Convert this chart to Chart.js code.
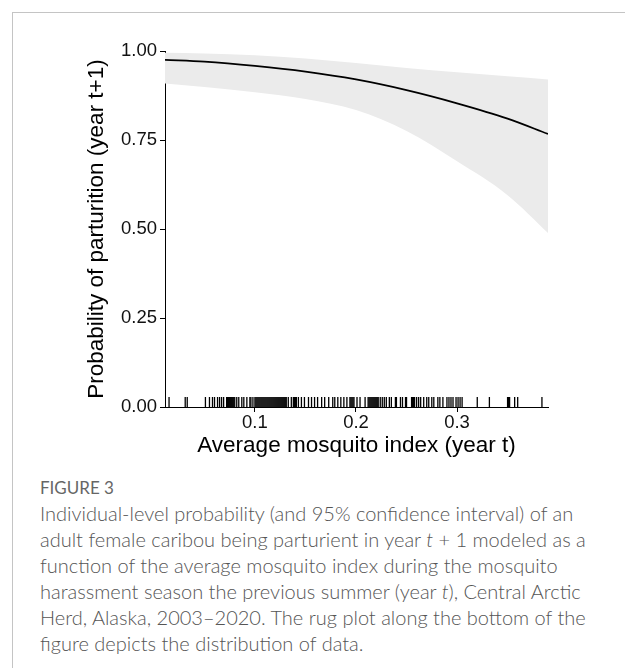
<!DOCTYPE html>
<html>
<head>
<meta charset="utf-8">
<script src="https://cdn.jsdelivr.net/npm/chart.js@4/dist/chart.umd.min.js"></script>
<style>
  html, body { margin: 0; padding: 0; background: #fff; }
  body { width: 625px; height: 668px; position: relative; overflow: hidden; }
  #frame {
    position: absolute; left: 12px; top: 12px; width: 640px; height: 700px;
    border-top: 1px solid #c4c4c4; border-left: 1px solid #c4c4c4;
  }
  #chart { position: absolute; left: 0; top: 0; }
  #figLabel {
    position: absolute; left: 40px; top: 477px;
    font-family: Lato, "Open Sans", sans-serif; font-size: 17px; color: #666;
  }
  #caption {
    position: absolute; left: 40px; top: 500px;
    font-family: Lato, "Open Sans", sans-serif; font-size: 20px; line-height: 26px;
    font-weight: 300; color: #555; white-space: nowrap;
  }
</style>
</head>
<body>
<div id="frame"></div>
<canvas id="chart" width="625" height="470"></canvas>
<div id="figLabel">FIGURE 3</div>
<div id="caption">
Individual-level probability (and 95% confidence interval) of an<br>
adult female caribou being parturient in year <i>t</i> + 1 modeled as a<br>
function of the average mosquito index during the mosquito<br>
harassment season the previous summer (year <i>t</i>), Central Arctic<br>
Herd, Alaska, 2003&#8211;2020. The rug plot along the bottom of the<br>
figure depicts the distribution of data.
</div>
<script>
// fitted curve and 95% CI
const xGrid    = [0.011, 0.05,  0.1,   0.15,  0.2,   0.25,  0.3,   0.35,  0.39];
const fitProb  = [0.975, 0.970, 0.958, 0.942, 0.920, 0.890, 0.853, 0.810, 0.767];
const upperCI  = [0.995, 0.993, 0.988, 0.979, 0.966, 0.952, 0.940, 0.929, 0.920];
const lowerCI  = [0.909, 0.899, 0.884, 0.865, 0.834, 0.775, 0.690, 0.595, 0.489];

// rug (observed mosquito index values)
const rugX = [
  0.015, 0.031, 0.033, 0.051, 0.055, 0.058, 0.060, 0.063, 0.065, 0.067, 0.069,
  0.072, 0.073, 0.074, 0.075, 0.076, 0.077, 0.078, 0.079, 0.080,
  0.082, 0.084, 0.087, 0.089, 0.092, 0.095, 0.096, 0.098,
  0.100, 0.101, 0.102, 0.103, 0.104, 0.105, 0.106, 0.107, 0.108, 0.109,
  0.110, 0.111, 0.112, 0.113, 0.114, 0.115, 0.116, 0.117, 0.118, 0.119,
  0.120, 0.121, 0.122, 0.123, 0.124, 0.125, 0.126, 0.127, 0.128, 0.129,
  0.130, 0.131, 0.133, 0.136, 0.138, 0.139, 0.140, 0.141, 0.143, 0.146, 0.149,
  0.153, 0.156, 0.159, 0.162, 0.166, 0.169, 0.173, 0.177, 0.179, 0.182,
  0.185, 0.188, 0.191, 0.194, 0.195, 0.196, 0.197, 0.198, 0.201, 0.204, 0.209,
  0.212, 0.213, 0.214, 0.215, 0.216, 0.217, 0.218, 0.219, 0.220, 0.221, 0.222,
  0.224, 0.226, 0.228, 0.230, 0.233, 0.235, 0.239, 0.240, 0.244, 0.246, 0.249,
  0.250, 0.255, 0.256, 0.257, 0.258, 0.260, 0.262, 0.264, 0.267, 0.270, 0.272,
  0.275, 0.277, 0.281, 0.283, 0.286, 0.290, 0.292, 0.294, 0.296, 0.299, 0.301,
  0.303, 0.305, 0.320, 0.332, 0.350, 0.351, 0.352, 0.357, 0.360, 0.384
];
const rugY = 0.014;

const xTickVals = [0.1, 0.2, 0.3];
const yTickVals = [0, 0.25, 0.5, 0.75, 1];
const xMin = 0.011, xMax = 0.39;

const axisFont = { family: "'Liberation Sans', Arial, sans-serif", size: 18.5 };
const titleFont = { family: "'Liberation Sans', Arial, sans-serif", size: 22.5 };

const toPts = (ys) => xGrid.map((x, i) => ({ x: x, y: ys[i] }));

new Chart(document.getElementById("chart"), {
    type: "line",
    data: {
        datasets: [
            {
                label: "upper",
                data: toPts(upperCI),
                borderWidth: 0,
                pointRadius: 0,
                backgroundColor: "#ebebeb",
                fill: "+1",
                order: 3,
                tension: 0.4,
                cubicInterpolationMode: "monotone"
            },
            {
                label: "lower",
                data: toPts(lowerCI),
                borderWidth: 0,
                pointRadius: 0,
                fill: false,
                order: 2,
                tension: 0.4,
                cubicInterpolationMode: "monotone"
            },
            {
                label: "fit",
                data: toPts(fitProb),
                borderColor: "#000",
                borderWidth: 1.8,
                pointRadius: 0,
                fill: false,
                order: 0,
                tension: 0.4,
                cubicInterpolationMode: "monotone"
            },
            {
                type: "scatter",
                label: "rug",
                data: rugX.map(x => ({ x: x, y: rugY })),
                pointStyle: "line",
                rotation: 90,
                pointRadius: 5,
                borderColor: "#000",
                borderWidth: 1.3,
                order: 1,
                showLine: false
            }
        ]
    },
    options: {
        responsive: false,
        animation: false,
        devicePixelRatio: 1,
        events: [],
        layout: { padding: { left: 80, top: 51, right: 77, bottom: 8 } },
        plugins: {
            legend: { display: false },
            tooltip: { enabled: false }
        },
        scales: {
            x: {
                type: "linear",
                min: xMin,
                max: xMax,
                afterBuildTicks: s => { s.ticks = xTickVals.map(v => ({ value: v })); },
                afterFit: s => { s.height = 55; },
                ticks: {
                    callback: v => v.toFixed(1),
                    font: axisFont,
                    color: "#111",
                    padding: 0,
                    maxRotation: 0
                },
                grid: { drawOnChartArea: false, drawTicks: true, tickLength: 5, color: "#000" },
                border: { display: true, color: "#000", width: 1 },
                title: {
                    display: true,
                    text: "Average mosquito index (year t)",
                    font: titleFont,
                    color: "#000",
                    padding: { top: 0, bottom: 3 }
                }
            },
            y: {
                min: 0,
                max: 1,
                afterBuildTicks: s => { s.ticks = yTickVals.map(v => ({ value: v })); },
                afterFit: s => { s.width = 85; },
                ticks: {
                    callback: v => v.toFixed(2),
                    font: axisFont,
                    color: "#111",
                    padding: 3
                },
                grid: { drawOnChartArea: false, drawTicks: true, tickLength: 5, color: "#000" },
                border: { display: true, color: "#000", width: 1 },
                title: {
                    display: true,
                    text: "Probability of parturition (year t+1)",
                    font: titleFont,
                    color: "#000",
                    padding: { top: 3, bottom: 0 }
                }
            }
        }
    }
});
</script>
</body>
</html>
